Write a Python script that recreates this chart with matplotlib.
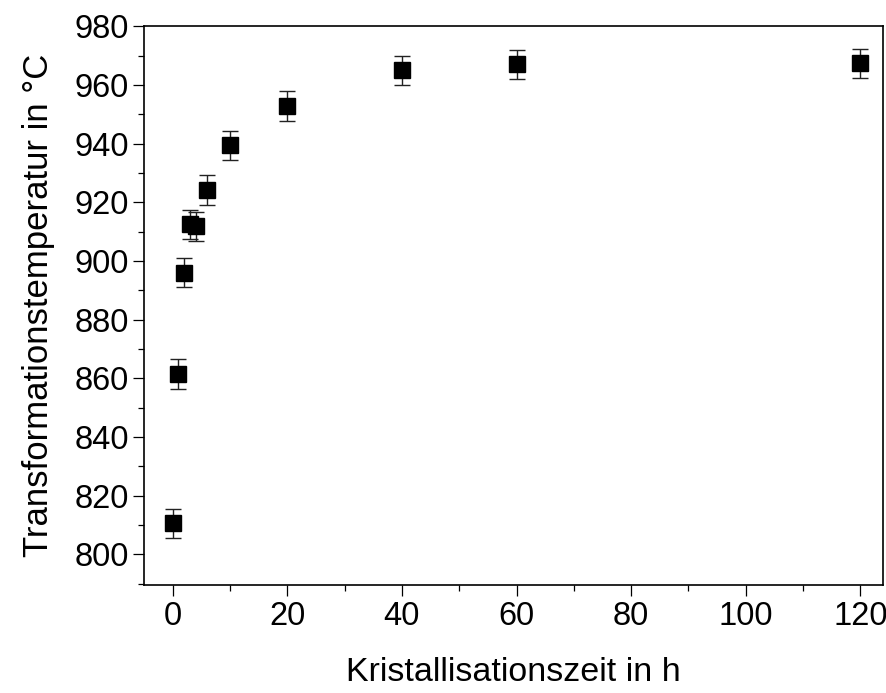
import numpy as np
import matplotlib.pyplot as plt
from matplotlib.ticker import MultipleLocator

plt.rcParams['font.family'] = ['Liberation Sans', 'DejaVu Sans']

# Kristallisationszeit (h) und Transformationstemperatur (°C)
zeit = [0, 1, 2, 3, 4, 6, 10, 20, 40, 60, 120]
temp = [810.5, 861.5, 896, 912.5, 911.8, 924.2, 939.4, 952.8, 965, 967.1, 967.4]
fehler = [5, 5, 5, 5, 5, 5, 5, 5, 5, 5, 5]

fig = plt.figure(figsize=(8.87, 6.93), dpi=100)
ax = fig.add_axes([0.1624, 0.1554, 0.8334, 0.8066])

ax.errorbar(zeit, temp, yerr=fehler, ls='none', marker='s', ms=11.5,
            mfc='black', mec='black', ecolor='#222222', elinewidth=1.0,
            capsize=6, capthick=1.0)

ax.set_xlim(-5, 124)
ax.set_ylim(789.4, 980)
ax.xaxis.set_major_locator(MultipleLocator(20))
ax.xaxis.set_minor_locator(MultipleLocator(10))
ax.yaxis.set_major_locator(MultipleLocator(20))
ax.yaxis.set_minor_locator(MultipleLocator(10))

ax.tick_params(which='major', direction='out', length=8, width=0.9,
               labelsize=23.5, pad=3)
ax.tick_params(which='minor', direction='out', length=4, width=0.9)
for s in ax.spines.values():
    s.set_linewidth(1.2)

ax.set_xlabel('Kristallisationszeit in h', fontsize=24.5, labelpad=18)
ax.set_ylabel('Transformationstemperatur in °C', fontsize=25, labelpad=14)

fig.savefig('out.png', dpi=100)
